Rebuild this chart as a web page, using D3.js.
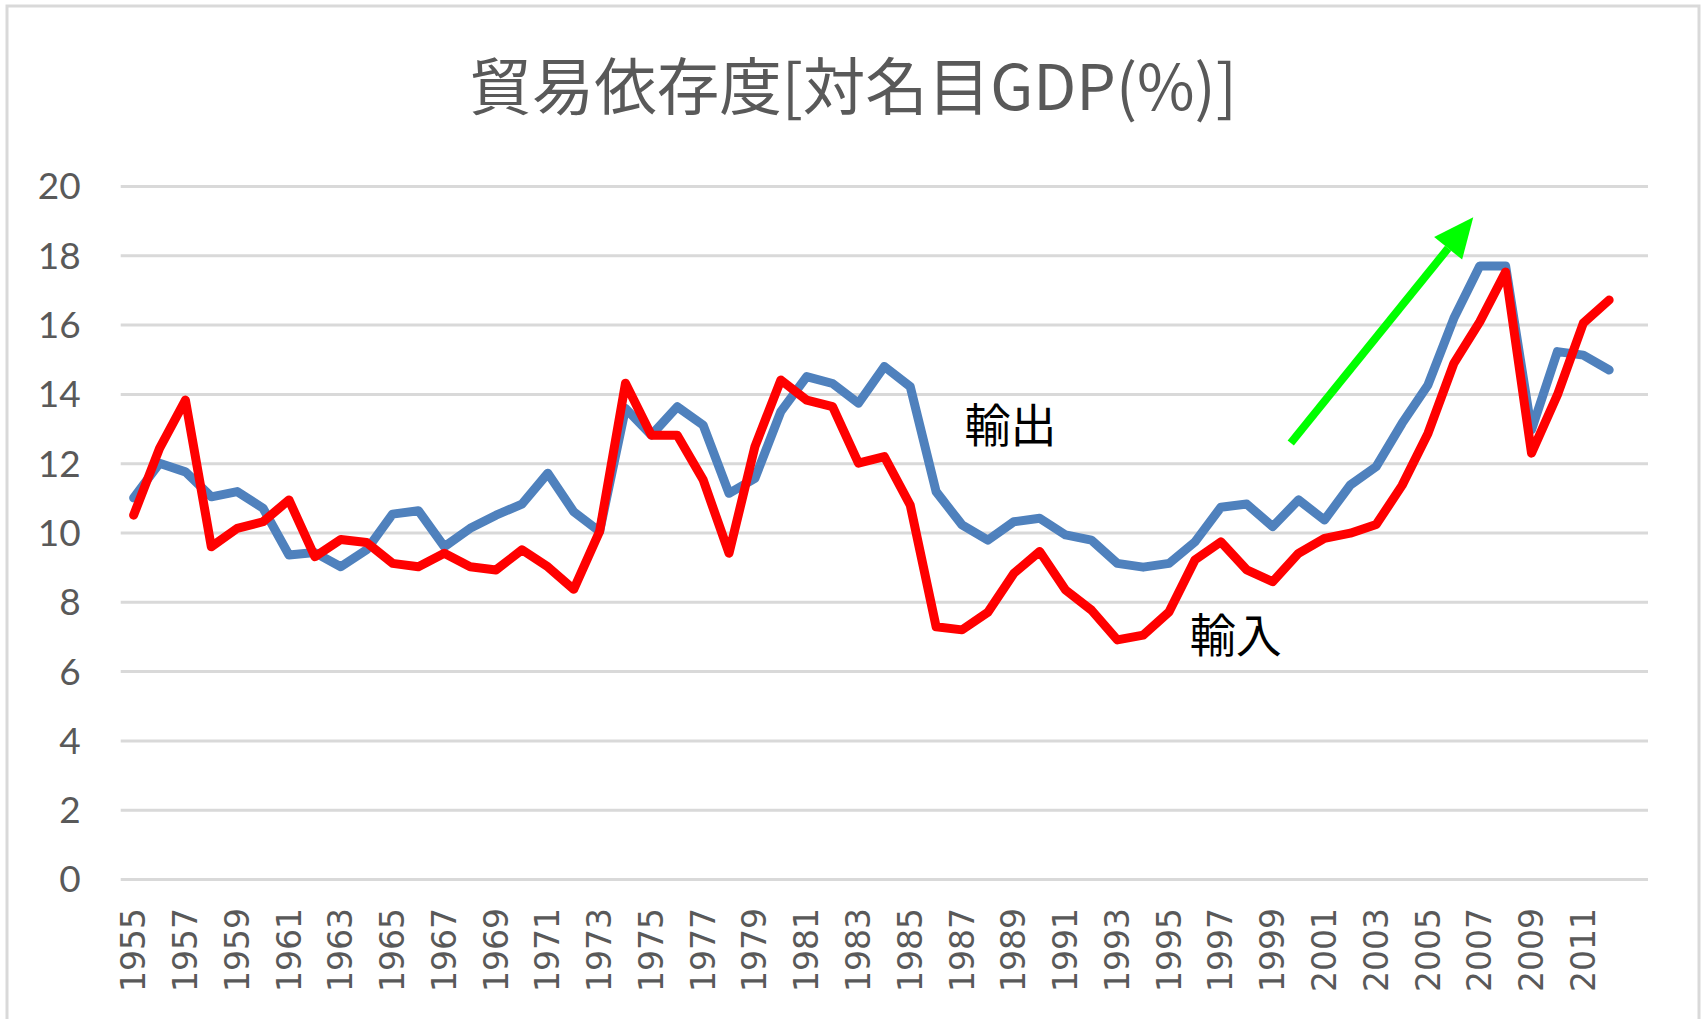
<!DOCTYPE html>
<html><head><meta charset="utf-8">
<script src="https://cdn.jsdelivr.net/npm/d3@7"></script>
<style>html,body{margin:0;padding:0;background:#fff;}svg{display:block;}</style>
</head><body>
<svg id="chart" width="1703" height="1019"></svg>
<script>
const titleText = "貿易依存度[対名目GDP(%)]";
const years = d3.range(1955, 2013);
const categories = d3.range(1955, 2014); // last category (2013) is empty
const tickYears = d3.range(1955, 2012, 2);
const yTicks = d3.range(0, 21, 2);
const exportsPct = [11.0,12.0,11.75,11.03,11.18,10.7,9.35,9.42,9.01,9.5,10.53,10.63,9.59,10.12,10.5,10.82,11.71,10.6,10.03,13.58,12.81,13.63,13.1,11.13,11.56,13.49,14.5,14.3,13.73,14.79,14.21,11.18,10.22,9.78,10.31,10.41,9.93,9.78,9.11,9.0,9.11,9.73,10.73,10.82,10.17,10.94,10.36,11.37,11.9,13.15,14.26,16.18,17.69,17.69,12.96,15.22,15.12,14.69];
const importsPct = [10.5,12.43,13.82,9.59,10.12,10.31,10.94,9.3,9.8,9.71,9.11,9.01,9.4,9.01,8.92,9.5,9.01,8.36,10.03,14.31,12.81,12.81,11.52,9.4,12.48,14.4,13.82,13.63,12.0,12.19,10.79,7.28,7.19,7.7,8.82,9.45,8.34,7.76,6.9,7.04,7.71,9.21,9.73,8.92,8.58,9.4,9.83,9.98,10.23,11.36,12.86,14.88,16.08,17.52,12.29,13.97,16.04,16.71];
const seriesNames = ["輸出", "輸入"];
const labelPos = [{year: 1987.1, value: 12.6}, {year: 1995.8, value: 6.55}];
const arrowFrom = {year: 1999.7, value: 12.58};
const arrowTo = {year: 2006.75, value: 19.1};

const svg = d3.select("#chart");
const plotL = 120.7, plotR = 1648, plotT = 186, plotB = 879;

// outer border
svg.append("rect").attr("x", 7).attr("y", 6).attr("width", 1692).attr("height", 1040)
  .attr("fill", "#fff").attr("stroke", "#d9d9d9").attr("stroke-width", 3);

const x = d3.scaleBand().domain(categories).range([plotL, plotR]).padding(0);
const xc = v => x(Math.floor(v)) + x.bandwidth() / 2 + (v - Math.floor(v)) * x.bandwidth();
const y = d3.scaleLinear().domain([0, 20]).range([plotB, plotT]);

// gridlines + y axis
const yAxis = d3.axisLeft(y).tickValues(yTicks).tickSize(-(plotR - plotL)).tickPadding(40);
const gy = svg.append("g").attr("transform", `translate(${plotL},0)`).call(yAxis);
gy.select(".domain").remove();
gy.selectAll(".tick line").attr("stroke", "#d9d9d9").attr("stroke-width", 3);
gy.selectAll(".tick text").attr("fill", "#595959").attr("font-family", "Lato, 'Open Sans', sans-serif")
  .attr("font-size", 37).attr("dy", "0.35em");

// x axis labels
const xAxis = d3.axisBottom(x).tickValues(tickYears).tickSize(0).tickPadding(0);
const gx = svg.append("g").attr("transform", `translate(0,${plotB})`).call(xAxis);
gx.select(".domain").remove();
gx.selectAll(".tick text")
  .attr("fill", "#595959").attr("font-family", "'DejaVu Sans', sans-serif").attr("font-size", 33)
  .attr("text-anchor", "end").attr("transform", "translate(0,29) rotate(-90)")
  .attr("x", 0).attr("y", 0).attr("dy", "0.35em");

// lines
const line = d3.line().x((d, i) => x(years[i]) + x.bandwidth() / 2).y(d => y(d));
svg.append("path").datum(exportsPct).attr("d", line).attr("fill", "none")
  .attr("stroke", "#4f81bd").attr("stroke-width", 9).attr("stroke-linejoin", "round").attr("stroke-linecap", "round");
svg.append("path").datum(importsPct).attr("d", line).attr("fill", "none")
  .attr("stroke", "#ff0000").attr("stroke-width", 9).attr("stroke-linejoin", "round").attr("stroke-linecap", "round");

// title
svg.append("text").attr("x", 853).attr("y", 110).attr("text-anchor", "middle")
  .attr("font-family", "'Noto Sans CJK JP', sans-serif").attr("font-size", 62.5).attr("fill", "#595959")
  .text(titleText);

// series labels
svg.selectAll(".slabel").data(labelPos).enter().append("text").attr("class", "slabel")
  .attr("x", d => xc(d.year)).attr("y", d => y(d.value))
  .attr("font-family", "'Noto Sans CJK JP', sans-serif").attr("font-size", 46).attr("fill", "#000")
  .text((d, i) => seriesNames[i]);

// green arrow
const x1 = xc(arrowFrom.year), y1 = y(arrowFrom.value), x2 = xc(arrowTo.year), y2 = y(arrowTo.value);
const ang = Math.atan2(y2 - y1, x2 - x1);
const headLen = 40, headW = 18;
const bx = x2 - headLen * Math.cos(ang), by = y2 - headLen * Math.sin(ang);
svg.append("line").attr("x1", x1).attr("y1", y1).attr("x2", bx).attr("y2", by)
  .attr("stroke", "#00ff00").attr("stroke-width", 8);
const px = -Math.sin(ang), py = Math.cos(ang);
svg.append("path")
  .attr("d", `M${x2},${y2}L${bx + px * headW},${by + py * headW}L${bx - px * headW},${by - py * headW}Z`)
  .attr("fill", "#00ff00");
</script>
</body></html>
